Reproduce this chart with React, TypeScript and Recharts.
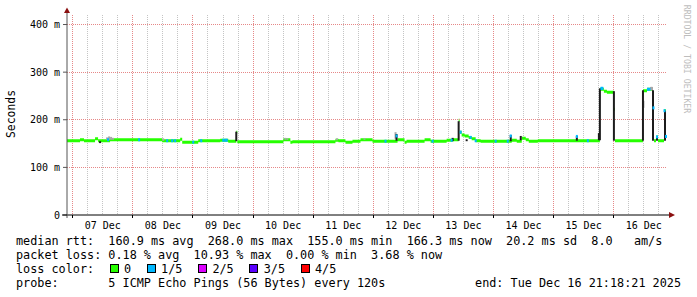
import React from 'react';
import { ComposedChart, Area, Scatter, ErrorBar, XAxis, YAxis, CartesianGrid, ReferenceLine } from 'recharts';

// time axis: hours relative to 07 Dec 00:00 ; graph ends Tue Dec 16 21:18:21
const X_MIN = -2.3;
const X_MAX = 237.3;
const Y_MAX = 420;

const dayLabels = ['07 Dec', '08 Dec', '09 Dec', '10 Dec', '11 Dec', '12 Dec', '13 Dec', '14 Dec', '15 Dec', '16 Dec'];
const yTicks = [0, 100, 200, 300, 400];

// median rtt (ms), step start [hour, ms]
const medianSteps: [number, number][] = [
  [-2.3, 156], [2.9, 158], [4.5, 156], [8.9, 160], [10.1, 156], [14.9, 158], [35.7, 156],
  [42.9, 159], [43.7, 153], [50.1, 156], [58.9, 157], [62.1, 155], [65.3, 174], [65.7, 154],
  [84.1, 158], [86.9, 153], [87.7, 154], [104.9, 157], [106.1, 156], [108.9, 153], [111.7, 155],
  [114.9, 158], [119.7, 155], [129.7, 158], [132.5, 153], [133.3, 155], [140.5, 158], [142.9, 155],
  [149.3, 157], [151.7, 158], [154.1, 199], [154.5, 174], [155.3, 168], [156.5, 166], [158.1, 163],
  [159.3, 160], [160.9, 156], [162.9, 155], [175.3, 157], [177.3, 155], [179.3, 161], [180.9, 158],
  [182.1, 155], [185.7, 156], [210.5, 264], [212.1, 260], [213.3, 258], [216.1, 222], [216.5, 156],
  [227.7, 261], [229.3, 264], [231.7, 225], [232.1, 156], [232.9, 164], [233.7, 156], [236.1, 219],
  [236.9, 165], [237.3, 165],
];

// samples with 1/5 packet loss [hour, ms]
const lossMarks: [number, number][] = [
  [14.1, 158], [26.5, 158], [37.7, 156], [39.7, 156], [40.9, 156], [48.1, 153], [51.3, 156],
  [60.1, 157], [60.9, 157], [61.5, 157], [124.9, 155], [129.3, 166], [143.7, 155], [151.3, 157],
  [154.9, 174], [158.9, 163], [160.9, 156], [168.9, 155], [173.7, 155], [174.9, 166], [201.3, 165],
  [205.7, 156], [211.1, 266], [211.5, 266], [229.7, 264], [230.3, 264], [231.9, 225], [233.3, 164],
  [236.3, 219], [236.9, 165],
];

// dense smoke [hour, low ms, high ms]
const darkSmoke: [number, number, number][] = [
  [10.9, 151, 155], [65.3, 155, 175], [129.3, 156, 170], [151.7, 155, 162], [154.1, 156, 197],
  [157.3, 155, 159], [174.9, 155, 168], [178.9, 157, 166], [201.3, 156, 166], [210.1, 157, 172],
  [210.5, 157, 266], [216.1, 156, 260], [227.7, 156, 262], [231.7, 156, 262], [233.3, 156, 164],
  [236.5, 156, 219],
];

// light smoke [hour, low ms, high ms]
const lightSmoke: [number, number, number][] = [
  [13.7, 158, 163], [14.5, 158, 165], [15.3, 158, 164], [16.1, 158, 162], [36.1, 156, 161],
  [84.9, 158, 162], [85.7, 158, 161], [105.5, 157, 161], [116.5, 158, 161], [128.9, 160, 174],
  [227.9, 225, 240], [230.9, 262, 269], [231.3, 262, 269],
];

const statLines = [
  'median rtt:  160.9 ms avg  268.0 ms max  155.0 ms min  166.3 ms now  20.2 ms sd  8.0   am/s',
  'packet loss: 0.18 % avg  10.93 % max  0.00 % min  3.68 % now',
];
const lossTitle = 'loss color:';
const lossLegend = [
  { label: '0', color: '#26ff00' },
  { label: '1/5', color: '#00b8ff' },
  { label: '2/5', color: '#dc00ff' },
  { label: '3/5', color: '#5a00ff' },
  { label: '4/5', color: '#ff0000' },
];
const probeText = 'probe:       5 ICMP Echo Pings (56 Bytes) every 120s';
const endText = 'end: Tue Dec 16 21:18:21 2025';
const watermark = 'RRDTOOL / TOBI OETIKER';
const unitLabel = 'Seconds';

const MONO = '"DejaVu Sans Mono", "Liberation Mono", monospace';
const HALF = 3.15; // half thickness of median line in ms (1.5 px)
const GREEN = '#26ff00';
const BLUE = '#00b8ff';
const MINOR = '#c4c4c4';
const MAJOR = '#e68888';

const midnights: number[] = dayLabels.map((_, i) => i * 24);
const noons: number[] = dayLabels.map((_, i) => i * 24 + 12);
const gridV: number[] = [];
for (let h = 0; h < X_MAX; h += 6) gridV.push(h);
const minorH: number[] = [];
for (let v = 20; v <= Y_MAX; v += 20) if (v % 100 !== 0) minorH.push(v);
const majorH = [100, 200, 300, 400];
const crisp = (p: number) => Math.floor(p) + 0.5;

const medianRows = medianSteps.map(([t, v]) => ({ t, med: [v - HALF, v + HALF] }));
const darkRows = darkSmoke.map(([t, lo, hi]) => ({ t, lo, err: [0, hi - lo] }));
const lightRows = lightSmoke.map(([t, lo, hi]) => ({ t, lo, err: [0, hi - lo] }));
const lossRows = lossMarks.map(([t, v]) => ({ t, v }));

const xPix = (args: any, v: number) => {
  const ax = args && args.xAxis;
  if (ax && typeof ax.scale === 'function') {
    const r = ax.scale(v);
    if (typeof r === 'number' && !isNaN(r)) return crisp(r);
  }
  const o = args.offset;
  return crisp(o.left + ((v - X_MIN) / (X_MAX - X_MIN)) * o.width);
};

const VLine = (p: any) => {
  const i = typeof p.index === 'number' ? p.index : -1;
  const major = i >= 0 && gridV[i] % 24 === 0;
  return (
    <line key={`v${i}`} x1={p.x1} x2={p.x2} y1={p.y1} y2={p.y2} stroke={major ? MAJOR : MINOR}
      strokeWidth={1} strokeDasharray="1 1" shapeRendering="crispEdges" />
  );
};

const DayTick = (props: any) => {
  const { x, y, payload } = props;
  const idx = noons.indexOf(payload.value);
  if (idx >= 0) {
    return (
      <text x={x} y={y + 14} textAnchor="middle" fontFamily={MONO} fontSize={10} fill="#000">
        {dayLabels[idx]}
      </text>
    );
  }
  return <line x1={crisp(x)} x2={crisp(x)} y1={y} y2={y + 3} stroke="#000" strokeWidth={1} />;
};

const NoDot = () => <g />;
const LossDot = (props: any) => {
  const { cx, cy } = props;
  if (typeof cx !== 'number' || typeof cy !== 'number') return <g />;
  return <rect x={cx - 1} y={cy - 1.5} width={2} height={3} fill={BLUE} />;
};

export default function App() {
  let bx = 109.5;
  const boxes = lossLegend.map((e) => {
    const item = { ...e, x: bx };
    bx += 14.5 + e.label.length * 7.1 + 15.5;
    return item;
  });
  const textStyle: React.CSSProperties = {
    position: 'absolute',
    fontFamily: MONO,
    fontSize: 11.8,
    lineHeight: '14px',
    whiteSpace: 'pre',
    color: '#000',
  };
  return (
    <div style={{ position: 'absolute', left: 0, top: 0, width: 697, height: 297, background: '#fff', overflow: 'hidden' }}>
      <ComposedChart width={697} height={297} data={medianRows} margin={{ top: 15, right: 30, bottom: 62, left: 0 }}>
        <CartesianGrid
          horizontal={false}
          syncWithTicks={false}
          verticalCoordinatesGenerator={(args: any) => gridV.map((v) => xPix(args, v))}
          vertical={VLine}
        />
        {majorH.map((v) => (
          <ReferenceLine key={`h${v}`} y={v} stroke={MAJOR} strokeDasharray="1 1" shapeRendering="crispEdges" />
        ))}
        <XAxis
          dataKey="t"
          type="number"
          domain={[X_MIN, X_MAX]}
          allowDataOverflow
          ticks={[...midnights, ...noons].sort((a, b) => a - b)}
          interval={0}
          tickLine={false}
          tickSize={0}
          tickMargin={0}
          height={20}
          axisLine={{ stroke: '#000' }}
          tick={DayTick}
        />
        <YAxis
          type="number"
          domain={[0, Y_MAX]}
          allowDataOverflow
          ticks={yTicks}
          interval={0}
          width={67}
          tickSize={4}
          tickMargin={3}
          axisLine={{ stroke: '#555' }}
          tickLine={{ stroke: '#555' }}
          tick={{ fontFamily: MONO, fontSize: 10, fill: '#000' }}
          tickFormatter={(v: number) => (v === 0 ? '0' : `${v} m`)}
        />
        <YAxis
          yAxisId="gridMinor"
          orientation="right"
          mirror
          type="number"
          domain={[0, Y_MAX]}
          allowDataOverflow
          ticks={minorH}
          interval={0}
          width={0}
          tickSize={600}
          tick={false}
          axisLine={false}
          tickLine={{ stroke: MINOR, strokeDasharray: '1 1', shapeRendering: 'crispEdges' }}
        />
        <Scatter data={lightRows} dataKey="lo" shape={NoDot} isAnimationActive={false}>
          <ErrorBar dataKey="err" direction="y" width={0} stroke="#a8a8a8" strokeWidth={2} />
        </Scatter>
        <Scatter data={darkRows} dataKey="lo" shape={NoDot} isAnimationActive={false}>
          <ErrorBar dataKey="err" direction="y" width={0} stroke="#1c1c1c" strokeWidth={2} />
        </Scatter>
        <Area
          dataKey="med"
          type="stepAfter"
          stroke="none"
          fill={GREEN}
          fillOpacity={1}
          dot={false}
          activeDot={false}
          isAnimationActive={false}
        />
        <Scatter data={lossRows} dataKey="v" shape={LossDot} isAnimationActive={false} />
      </ComposedChart>

      <svg width={697} height={297} style={{ position: 'absolute', left: 0, top: 0, pointerEvents: 'none' }}>
        <line x1={67} x2={67} y1={12} y2={15} stroke="#555" />
        <line x1={67} x2={67} y1={215} y2={218} stroke="#555" />
        <line x1={62} x2={67} y1={215} y2={215} stroke="#000" />
        <line x1={667} x2={670} y1={215} y2={215} stroke="#000" />
        <polygon points="64,13 70,13 67,7.5" fill="#8b1010" />
        <polygon points="669,212 669,218 675,215" fill="#8b1010" />
      </svg>

      <div style={{ position: 'absolute', left: 11, top: 114, transform: 'translate(-50%, -50%) rotate(-90deg)', fontFamily: MONO, fontSize: 11.4, whiteSpace: 'nowrap', color: '#000' }}>
        {unitLabel}
      </div>
      <div style={{ position: 'absolute', left: 687, top: 59, transform: 'translate(-50%, -50%) rotate(90deg)', fontFamily: MONO, fontSize: 8.2, whiteSpace: 'nowrap', color: '#bdbdbd' }}>
        {watermark}
      </div>

      {statLines.map((s, i) => (
        <div key={i} style={{ ...textStyle, left: 16, top: 234 + i * 14 }}>{s}</div>
      ))}
      <div style={{ ...textStyle, left: 16, top: 262 }}>{lossTitle}</div>
      {boxes.map((b) => (
        <React.Fragment key={b.label}>
          <div style={{ position: 'absolute', left: b.x, top: 264, width: 7, height: 7, border: '1px solid #000', background: b.color }} />
          <div style={{ ...textStyle, left: b.x + 14.5, top: 262 }}>{b.label}</div>
        </React.Fragment>
      ))}
      <div style={{ ...textStyle, left: 16, top: 276 }}>{probeText}</div>
      <div style={{ ...textStyle, right: 16, top: 276 }}>{endText}</div>
    </div>
  );
}
